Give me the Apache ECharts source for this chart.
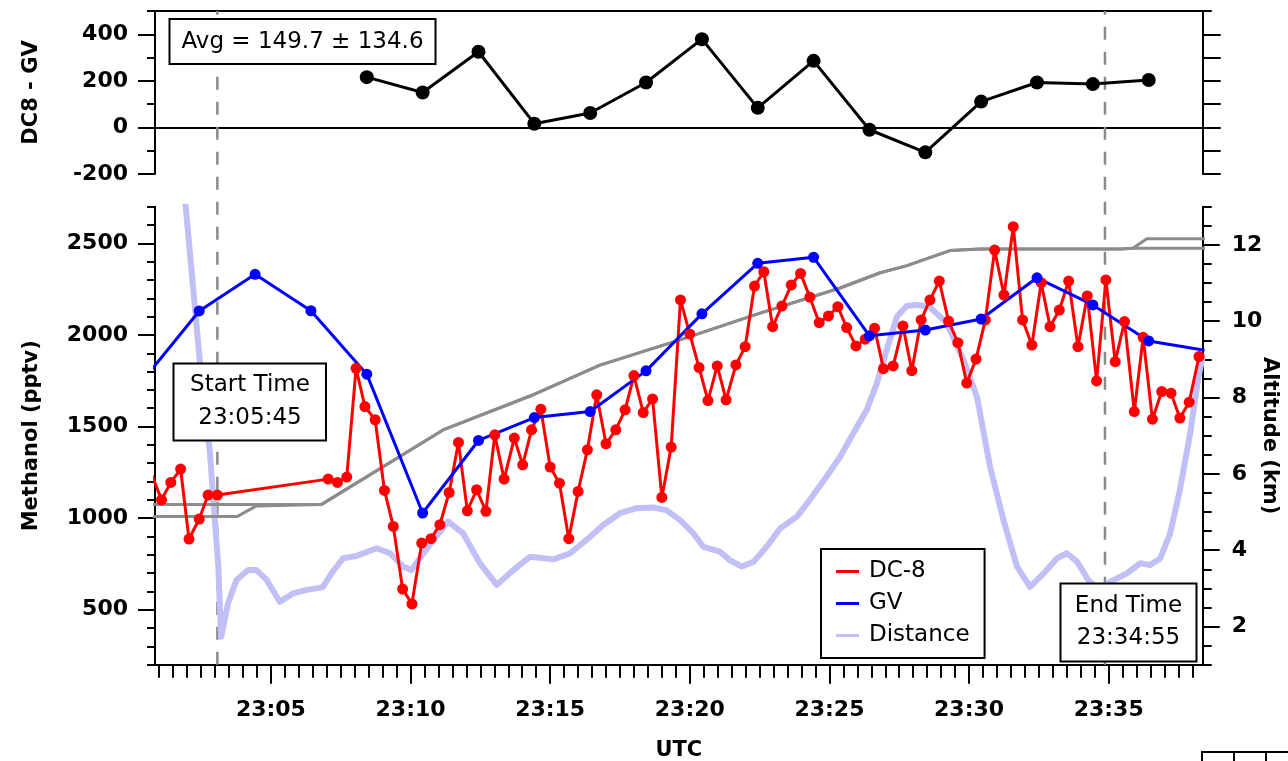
<!DOCTYPE html>
<html><head><meta charset="utf-8">
<script src="https://cdn.jsdelivr.net/npm/echarts@6/dist/echarts.min.js"></script>
<style>html,body{margin:0;padding:0;background:#fff}#c{width:1288px;height:761px}</style>
</head><body><div id="c"></div>
<script>
// ---------------- DATA ----------------
// DC-8 methanol (pptv)
const dc8Times = [
 "23:00:45","23:01:05","23:01:25","23:01:46","23:02:04","23:02:26","23:02:45","23:03:05",
 "23:07:03","23:07:23","23:07:43","23:08:03","23:08:22","23:08:44","23:09:04","23:09:23","23:09:43","23:10:03",
 "23:10:24","23:10:44","23:11:03","23:11:23","23:11:43","23:12:02","23:12:22","23:12:42","23:13:01","23:13:21",
 "23:13:43","23:14:01","23:14:20","23:14:40","23:15:00","23:15:20","23:15:40","23:16:00","23:16:20","23:16:40",
 "23:17:00","23:17:21","23:17:41","23:18:00","23:18:20","23:18:40","23:19:00","23:19:20","23:19:40","23:20:00",
 "23:20:20","23:20:39","23:20:59","23:21:18","23:21:39","23:21:59","23:22:19","23:22:39","23:22:58","23:23:18",
 "23:23:38","23:23:58","23:24:18","23:24:38","23:24:58","23:25:18","23:25:37","23:25:57","23:26:17","23:26:37",
 "23:26:56","23:27:17","23:27:38","23:27:57","23:28:17","23:28:36","23:28:56","23:29:16","23:29:36","23:29:55",
 "23:30:15","23:30:35","23:30:55","23:31:15","23:31:35","23:31:55","23:32:15","23:32:35","23:32:54","23:33:14",
 "23:33:34","23:33:54","23:34:14","23:34:34","23:34:54","23:35:14","23:35:34","23:35:55","23:36:14","23:36:34",
 "23:36:54","23:37:14","23:37:33","23:37:53","23:38:14"];
const dc8Methanol = [
 1231,1100,1195,1268,886,995,1126,1126,
 1213,1195,1224,1818,1609,1537,1151,955,613,532,
 864,888,964,1140,1413,1040,1155,1037,1455,1213,
 1437,1291,1482,1595,1279,1191,888,1146,1373,1673,
 1406,1482,1591,1778,1576,1651,1113,1388,2191,2005,
 1822,1642,1831,1646,1836,1936,2267,2345,2045,2158,
 2273,2336,2206,2067,2104,2154,2040,1940,1977,2037,
 1816,1831,2049,1805,2082,2191,2294,2076,1958,1737,
 1868,2082,2463,2218,2591,2082,1945,2285,2045,2136,
 2294,1936,2213,1749,2300,1854,2073,1582,1987,1540,
 1691,1682,1546,1633,1882];

// GV methanol (pptv)
const gvTimes = ["23:00:26","23:02:26","23:04:26","23:06:26","23:08:26","23:10:26","23:12:26","23:14:26",
 "23:16:26","23:18:26","23:20:26","23:22:26","23:24:26","23:26:26","23:28:26","23:30:26","23:32:26",
 "23:34:26","23:36:26","23:38:26"];
const gvMethanol = [1756,2131,2331,2132,1786,1028,1424,1549,1582,1804,2115,2391,2424,1995,2027,2087,2312,2164,1967,1916];

// DC8 - GV difference
const diffTimes = ["23:08:26","23:10:26","23:12:26","23:14:26","23:16:26","23:18:26","23:20:26","23:22:26",
 "23:24:26","23:26:26","23:28:26","23:30:26","23:32:26","23:34:26","23:36:26"];
const diffValues = [216,150,325,16,62,193,379,84,286,-10,-107,111,193,186,204];

// Altitude traces (km)
const alt1Times = ["23:00:40","23:06:49","23:11:10","23:14:17","23:16:47","23:19:39","23:22:31","23:25:23",
 "23:26:49","23:27:45","23:29:19","23:30:24","23:35:25","23:35:52","23:36:22","23:38:30"];
const alt1Km = [5.20,5.20,7.15,8.04,8.85,9.51,10.21,10.87,11.27,11.45,11.85,11.89,11.89,11.91,12.16,12.16];
const alt2Times = ["23:00:40","23:03:47","23:04:29","23:06:49","23:11:10","23:14:17","23:16:47","23:19:39",
 "23:22:31","23:25:23","23:26:49","23:27:45","23:29:19","23:30:24","23:35:25","23:35:52","23:38:30"];
const alt2Km = [4.88,4.88,5.16,5.20,7.15,8.04,8.85,9.51,10.21,10.87,11.27,11.45,11.85,11.89,11.89,11.91,11.91];

// Distance (relative units, drawn on a hidden axis)
const distTimes = ["23:01:51","23:01:57","23:02:27","23:02:49","23:03:07","23:03:13","23:03:28","23:03:46",
 "23:04:11","23:04:29","23:04:51","23:05:19","23:05:48","23:06:17","23:06:38","23:06:52","23:07:10","23:07:35",
 "23:08:04","23:08:47","23:09:16","23:09:44","23:10:02","23:10:20","23:10:49","23:11:21","23:11:53","23:12:29",
 "23:13:05","23:13:41","23:14:17","23:15:07","23:15:43","23:16:18","23:16:54","23:17:30","23:18:06","23:18:42",
 "23:19:10","23:19:39","23:20:08","23:20:29","23:21:05","23:21:26","23:21:52","23:22:17","23:22:45","23:23:14",
 "23:23:50","23:24:18","23:24:54","23:25:23","23:25:51","23:26:20","23:26:42","23:27:03","23:27:25","23:27:46",
 "23:28:08","23:28:36","23:29:12","23:29:48","23:30:17","23:30:45","23:31:14","23:31:43","23:32:11","23:32:40",
 "23:33:09","23:33:30","23:33:52","23:34:16","23:34:39","23:35:03","23:35:39","23:36:08","23:36:29","23:36:51",
 "23:37:12","23:37:33","23:37:55","23:38:13","23:38:22"];
const distValues = [13.87,13.00,8.99,6.55,3.57,1.73,2.61,3.22,
 3.48,3.48,3.22,2.65,2.87,2.96,3.00,3.04,3.39,3.79,
 3.85,4.05,3.92,3.57,3.48,3.79,4.27,4.75,4.44,3.66,
 3.09,3.48,3.83,3.76,3.92,4.27,4.66,4.97,5.10,5.12,
 5.05,4.79,4.44,4.09,3.96,3.74,3.57,3.70,4.09,4.57,
 4.88,5.32,5.93,6.45,7.06,7.67,8.37,9.25,10.12,10.40,
 10.43,10.37,9.95,8.99,8.02,6.19,4.79,3.57,3.04,3.39,
 3.79,3.92,3.70,3.22,2.96,3.17,3.39,3.66,3.61,3.79,
 4.44,5.58,7.06,8.55,9.07];

// Start / end markers
const markerTimes = ["23:03:05","23:34:52"];

// Axis ticks & labels
const xMajor = [5,10,15,20,25,30,35];
const yTopMajor = [-200,0,200,400];
const yMethMajor = [500,1000,1500,2000,2500];
const yAltMajor = [2,4,6,8,10,12];

// ---------------- HELPERS ----------------
function tm(s){const p=s.split(':').map(Number);return (p[0]-23)*60+p[1]+p[2]/60;}
function pairs(ts,vs){return ts.map((t,i)=>[tm(t),vs[i]]);}
function range(a,b,s){const r=[];for(let v=a;v<=b+1e-9;v+=s)r.push(+v.toFixed(3));return r;}
const xMin = tm("23:00:51"), xMax = tm("23:38:22");
const FONT = 'DejaVu Sans';
const BLK = {color:'#000', width:2};
const lbl = {fontFamily:FONT, fontSize:22, fontWeight:'bold', color:'#000', formatter:v=>String(v)};
const nameStyle = {fontFamily:FONT, fontSize:21, fontWeight:'bold', color:'#000'};
const noSplit = {show:false};

function yAx(o){return Object.assign({type:'value', splitLine:noSplit, nameMoveOverlap:false, axisLine:{show:false}, axisLabel:{show:false}, axisTick:{show:false}}, o);}
function xAx(o){return Object.assign({type:'value', min:xMin, max:xMax, splitLine:noSplit, nameMoveOverlap:false, axisLabel:{show:false}, axisTick:{show:false}}, o);}

const chart = echarts.init(document.getElementById('c'), null, {renderer:'canvas'});
const L = 155, R = 1288-1202.7;
const option = {
  animation:false,
  backgroundColor:'#fff',
  grid:[
    {left:L, right:R, top:11, height:163, outerBoundsMode:'none', containLabel:false},
    {left:L, right:R, top:206.7, bottom:761-664.7, outerBoundsMode:'none', containLabel:false},
    {left:L, right:R, top:11, bottom:761-664.7, outerBoundsMode:'none', containLabel:false}
  ],
  xAxis:[
    xAx({gridIndex:0, position:'top', axisLine:{show:true, onZero:false, lineStyle:BLK}}),
    xAx({gridIndex:0, position:'bottom', axisLine:{show:true, onZero:true, onZeroAxisIndex:0, lineStyle:BLK}}),
    xAx({gridIndex:1, position:'bottom', axisLine:{show:true, onZero:false, lineStyle:BLK},
         axisTick:{show:true, length:13, lineStyle:BLK, customValues:range(1,38,0.5)}}),
    xAx({gridIndex:1, position:'bottom', axisLine:{show:false, onZero:false},
         axisTick:{show:true, length:19, lineStyle:BLK, customValues:xMajor},
         axisLabel:Object.assign({}, lbl, {show:true, margin:35, customValues:xMajor,
           formatter:v=>'23:'+String(Math.round(v)).padStart(2,'0')}),
         name:'UTC', nameLocation:'middle', nameGap:75, nameTextStyle:nameStyle}),
    xAx({gridIndex:2, show:false})
  ],
  yAxis:[
    yAx({gridIndex:0, min:-200, max:500, position:'left', axisLine:{show:true, lineStyle:BLK},
         axisTick:{show:true, length:17, lineStyle:BLK, customValues:yTopMajor},
         axisLabel:Object.assign({show:true, margin:27, customValues:yTopMajor}, lbl),
         name:'DC8 - GV', nameLocation:'middle', nameGap:113, nameTextStyle:nameStyle}),
    yAx({gridIndex:0, min:-200, max:500, position:'left',
         axisTick:{show:true, length:8, lineStyle:BLK, customValues:[-100,100,300,500]}}),
    yAx({gridIndex:0, min:-200, max:500, position:'right', axisLine:{show:true, lineStyle:BLK},
         axisTick:{show:true, length:18, lineStyle:BLK, customValues:range(-200,400,100)}}),
    yAx({gridIndex:0, min:-200, max:500, position:'right',
         axisTick:{show:true, length:9, lineStyle:BLK, customValues:[500]}}),
    yAx({gridIndex:1, min:200, max:2700, position:'left', axisLine:{show:true, lineStyle:BLK},
         axisTick:{show:true, length:17, lineStyle:BLK, customValues:yMethMajor},
         axisLabel:Object.assign({show:true, margin:27, customValues:yMethMajor}, lbl),
         name:'Methanol (pptv)', nameLocation:'middle', nameGap:113, nameTextStyle:nameStyle}),
    yAx({gridIndex:1, min:200, max:2700, position:'left',
         axisTick:{show:true, length:8, lineStyle:BLK, customValues:range(200,2700,100)}}),
    yAx({gridIndex:1, min:1, max:13, position:'right', axisLine:{show:true, lineStyle:BLK},
         axisTick:{show:true, length:17, lineStyle:BLK, customValues:yAltMajor},
         axisLabel:Object.assign({show:true, margin:29, customValues:yAltMajor}, lbl),
         name:'Altitude (km)', nameLocation:'middle', nameGap:56, nameRotate:-90,
         nameTextStyle:nameStyle}),
    yAx({gridIndex:1, min:1, max:13, position:'right',
         axisTick:{show:true, length:9, lineStyle:BLK, customValues:range(1,13,0.5)}}),
    yAx({gridIndex:1, min:1, max:13, position:'right', show:false}),
    yAx({gridIndex:2, min:0, max:1, show:false})
  ],
  legend:{
    data:['DC-8','GV','Distance'], orient:'vertical', left:821, top:549,
    itemWidth:23, itemHeight:3, icon:'rect', itemGap:9, padding:[11,15,11,15],
    borderColor:'#000', borderWidth:2, backgroundColor:'#fff', selectedMode:false,
    textStyle:{fontFamily:FONT, fontSize:23, color:'#000', padding:[0,0,0,5]}
  },
  series:[
    ...markerTimes.map(t=>({type:'line', xAxisIndex:4, yAxisIndex:9, data:[[tm(t),0],[tm(t),1]],
      symbol:'none', lineStyle:{color:'#8a8a8a', width:2.5, type:[13,12]}, silent:true, z:1})),
    {name:'Distance', type:'line', xAxisIndex:2, yAxisIndex:8, data:pairs(distTimes,distValues),
      symbol:'none', color:'#c0c0f6', lineStyle:{color:'#c0c0f6', width:6, join:'round', cap:'round'}},
    {name:'alt1', type:'line', xAxisIndex:2, yAxisIndex:6, data:pairs(alt1Times,alt1Km),
      symbol:'none', lineStyle:{color:'#8c8c8c', width:3}},
    {name:'alt2', type:'line', xAxisIndex:2, yAxisIndex:6, data:pairs(alt2Times,alt2Km),
      symbol:'none', lineStyle:{color:'#8c8c8c', width:3}},
    {name:'DC-8', type:'line', xAxisIndex:2, yAxisIndex:4, data:pairs(dc8Times,dc8Methanol),
      color:'#ff0000', symbol:'circle', symbolSize:11, lineStyle:{color:'#ff0000', width:3},
      itemStyle:{color:'#ff0000'}},
    {name:'GV', type:'line', xAxisIndex:2, yAxisIndex:4, data:pairs(gvTimes,gvMethanol),
      color:'#0000ff', symbol:'circle', symbolSize:11, lineStyle:{color:'#0000ff', width:3},
      itemStyle:{color:'#0000ff'}},
    {name:'DC8 - GV', type:'line', xAxisIndex:0, yAxisIndex:0, data:pairs(diffTimes,diffValues),
      color:'#000', symbol:'circle', symbolSize:14, lineStyle:{color:'#000', width:3}, itemStyle:{color:'#000'}}
  ],
  graphic:[
    {type:'rect', z:100, shape:{x:169.5, y:19, width:266, height:45}, style:{fill:'#fff', stroke:'#000', lineWidth:2}},
    {type:'text', z:101, style:{x:302.5, y:42, text:'Avg = 149.7 ± 134.6', font:'23px "DejaVu Sans"', fill:'#000',
      align:'center', verticalAlign:'middle', textAlign:'center', textVerticalAlign:'middle'}},
    {type:'rect', z:100, shape:{x:173.5, y:363.5, width:152.5, height:77}, style:{fill:'#fff', stroke:'#000', lineWidth:2}},
    {type:'text', z:101, style:{x:250, y:402, text:'Start Time\n23:05:45', font:'23px "DejaVu Sans"', lineHeight:33, fill:'#000',
      align:'center', verticalAlign:'middle', textAlign:'center', textVerticalAlign:'middle'}},
    {type:'rect', z:100, shape:{x:1060.5, y:583.5, width:136, height:78}, style:{fill:'#fff', stroke:'#000', lineWidth:2}},
    {type:'text', z:101, style:{x:1128.5, y:622.5, text:'End Time\n23:34:55', font:'23px "DejaVu Sans"', lineHeight:32, fill:'#000',
      align:'center', verticalAlign:'middle', textAlign:'center', textVerticalAlign:'middle'}},
    {type:'polyline', z:100, shape:{points:[[1202,761],[1202,752],[1288,752]]}, style:{stroke:'#000', lineWidth:2, fill:null}},
    {type:'line', z:100, shape:{x1:1234, y1:752, x2:1234, y2:761}, style:{stroke:'#000', lineWidth:2}},
    {type:'line', z:100, shape:{x1:1266, y1:752, x2:1266, y2:761}, style:{stroke:'#000', lineWidth:2}}
  ]
};
chart.setOption(option);
</script></body></html>
